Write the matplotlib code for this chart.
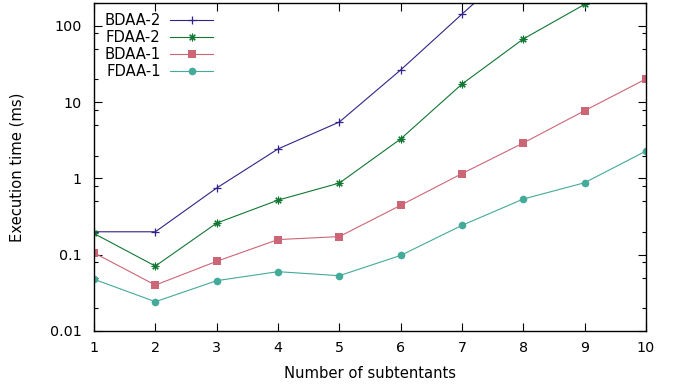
import numpy as np
import matplotlib
matplotlib.use("Agg")
import matplotlib.pyplot as plt
from matplotlib.ticker import LogLocator, NullFormatter

x = [1, 2, 3, 4, 5, 6, 7, 8, 9, 10]
bdaa2 = [0.2, 0.2, 0.75, 2.44, 5.5, 26.5, 143, 750, np.nan, np.nan]
fdaa2 = [0.19, 0.071, 0.26, 0.52, 0.87, 3.3, 17.3, 67.6, 192, np.nan]
bdaa1 = [0.106, 0.040, 0.082, 0.158, 0.173, 0.445, 1.16, 2.92, 7.75, 20.2]
fdaa1 = [0.0477, 0.0242, 0.0457, 0.060, 0.0531, 0.098, 0.243, 0.538, 0.88, 2.29]

yticks = [0.01, 0.1, 1, 10, 100]
ytick_labels = ["0.01", "0.1", "1", "10", "100"]

plt.rcParams['font.family'] = ['DejaVu Sans']
fig = plt.figure(figsize=(6.78, 3.88), dpi=100)
ax = fig.add_axes([94/678, 1-331/388, (646-94)/678, (331-3)/388])

ax.plot(x, bdaa2, color="#332288", marker="+", ms=6, mew=0.9, lw=0.8, label="BDAA-2")
ax.plot(x, fdaa2, color="#117733", marker=(8, 2, 0), ms=5.5, mew=0.8, lw=0.8, label="FDAA-2")
ax.plot(x, bdaa1, color="#CC6677", marker="s", ms=5.2, mew=0, lw=0.8, label="BDAA-1")
ax.plot(x, fdaa1, color="#44AA99", marker="o", ms=5.5, mew=0, lw=0.8, label="FDAA-1")

ax.set_yscale("log")
ax.set_xlim(1, 10)
ax.set_ylim(0.01, 200)
ax.set_xticks(x)
ax.set_yticks(yticks)
ax.set_yticklabels(ytick_labels)
ax.yaxis.set_minor_locator(LogLocator(base=10, subs=[2, 5, 8]))
ax.yaxis.set_minor_formatter(NullFormatter())
ax.tick_params(axis="both", which="both", direction="in", top=True, right=True,
               labelsize=10.3, colors="black", width=0.8)
ax.tick_params(axis="both", which="major", length=6)
ax.tick_params(axis="both", which="minor", length=3)
ax.tick_params(axis="x", pad=7)
ax.tick_params(axis="y", pad=9)
for s in ax.spines.values():
    s.set_linewidth(1.0)
    s.set_color("black")

ax.set_xlabel("Number of subtentants", fontsize=10.6, labelpad=8)
ax.set_ylabel("Execution time (ms)", fontsize=10.6, labelpad=18)

leg = ax.legend(loc="upper left", markerfirst=False, frameon=False, fontsize=10.6,
                handlelength=2.9, labelspacing=0.14, borderaxespad=0.3,
                handletextpad=0.65)

fig.savefig("out.png", dpi=100)
